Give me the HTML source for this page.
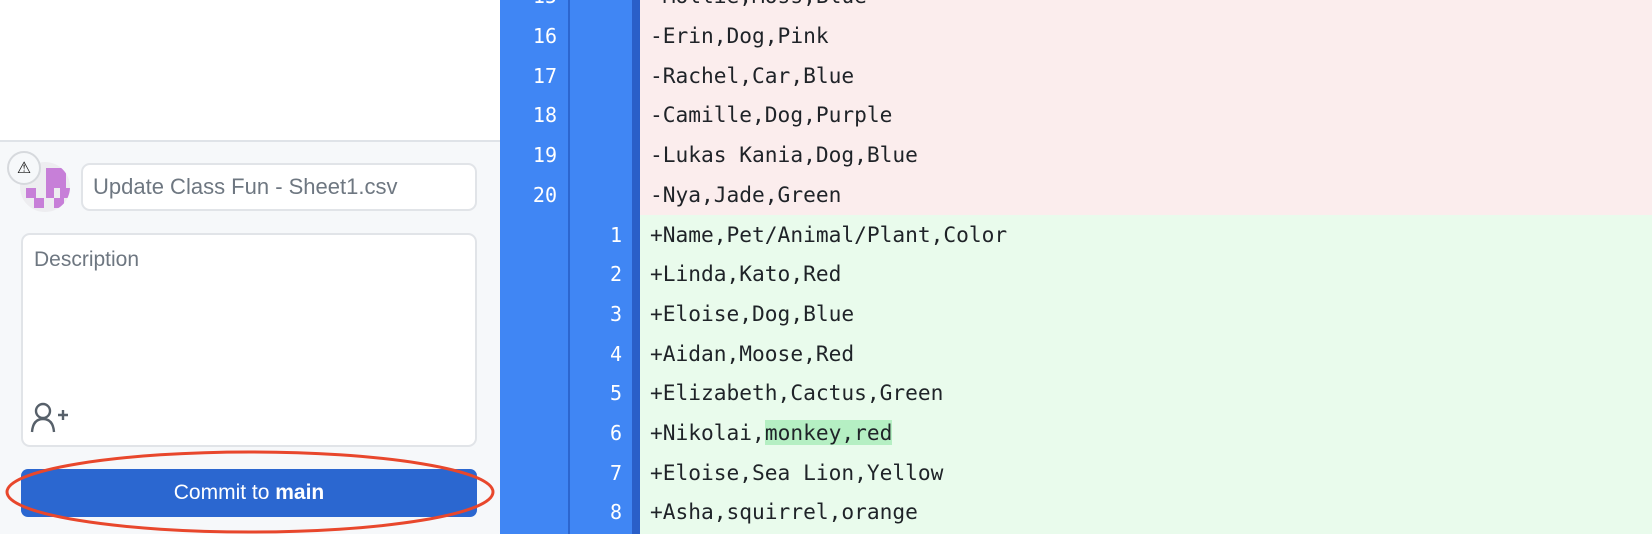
<!DOCTYPE html>
<html><head><meta charset="utf-8">
<style>
*{margin:0;padding:0;box-sizing:border-box}
body{width:1652px;height:534px;overflow:hidden;position:relative;background:#fff;font-family:"Liberation Sans",sans-serif}
.abs{position:absolute}
.row{position:absolute;left:640px;width:1012px;height:40px;font-family:"DejaVu Sans Mono",monospace;font-size:21.2px;color:#1f2328;line-height:40px;padding-left:10px;white-space:pre}
.num{position:absolute;font-family:"DejaVu Sans Mono",monospace;font-size:20px;color:#fff;line-height:40px;height:40px;text-align:right}
</style></head><body>
<div class="abs" style="left:0;top:0;width:500px;height:141px;background:#fff"></div>
<div class="abs" style="left:0;top:140px;width:500px;height:394px;background:#f6f8fa;border-top:2px solid #dfe3e8"></div>
<div class="abs" style="left:20px;top:162px;width:50px;height:50px;border-radius:50%;background:#ededf0;overflow:hidden">
 <div class="abs" style="left:26px;top:6px;width:10px;height:10px;background:#c77fd8"></div>
 <div class="abs" style="left:36px;top:6px;width:10px;height:20px;background:#c77fd8"></div>
 <div class="abs" style="left:26px;top:16px;width:10px;height:10px;background:#c77fd8"></div>
 <div class="abs" style="left:6px;top:26px;width:10px;height:10px;background:#c77fd8"></div>
 <div class="abs" style="left:26px;top:26px;width:8px;height:10px;background:#c77fd8"></div>
 <div class="abs" style="left:40px;top:26px;width:10px;height:10px;background:#c77fd8"></div>
 <div class="abs" style="left:14px;top:36px;width:10px;height:10px;background:#c77fd8"></div>
 <div class="abs" style="left:34px;top:36px;width:10px;height:10px;background:#c77fd8"></div>
</div>
<div class="abs" style="left:7px;top:151px;width:34px;height:34px;border-radius:50%;background:#f6f8fa;border:2px solid #d6d9dd;text-align:center;line-height:29px;font-size:16px;color:#111;font-family:'DejaVu Sans',sans-serif">⚠</div>
<div class="abs" style="left:81px;top:163px;width:396px;height:48px;background:#fff;border:2px solid #e1e4e8;border-radius:9px;font-size:22px;color:#6e7781;line-height:44px;padding-left:10px">Update Class Fun - Sheet1.csv</div>
<div class="abs" style="left:21px;top:233px;width:456px;height:214px;background:#fff;border:2px solid #e1e4e8;border-radius:9px;font-size:21px;color:#6e7781;padding:13px 0 0 11px">Description</div>
<svg class="abs" style="left:30px;top:402px" width="40" height="32" viewBox="0 0 40 32"><circle cx="13" cy="9" r="7" fill="none" stroke="#57606a" stroke-width="2.4"/><path d="M2 30 Q3 17 13 17 Q23 17 24 30" fill="none" stroke="#57606a" stroke-width="2.4"/><path d="M28 13h10M33 8v10" stroke="#57606a" stroke-width="2.4"/></svg>
<div class="abs" style="left:21px;top:469px;width:456px;height:48px;background:#2b67d0;border-radius:7px;color:#fff;font-size:21px;text-align:center;line-height:48px">Commit to <b>main</b></div>
<svg class="abs" style="left:0;top:440px" width="500" height="94"><ellipse cx="250" cy="52" rx="243" ry="40" fill="none" stroke="#e8472c" stroke-width="3"/></svg>
<div class="abs" style="left:500px;top:0;width:69px;height:534px;background:#4086f4"></div>
<div class="abs" style="left:568px;top:0;width:2px;height:534px;background:#2c66cf"></div>
<div class="abs" style="left:570px;top:0;width:62px;height:534px;background:#4086f4"></div>
<div class="abs" style="left:632px;top:0;width:8px;height:534px;background:#2a5fc8"></div>
<div class="abs" style="left:640px;top:0;width:1012px;height:215px;background:#fbeded"></div>
<div class="abs" style="left:640px;top:215px;width:1012px;height:319px;background:#e9fbec"></div>
<div class="num" style="left:500px;width:57px;top:-24px">15</div>
<div class="num" style="left:500px;width:57px;top:16px">16</div>
<div class="num" style="left:500px;width:57px;top:56px">17</div>
<div class="num" style="left:500px;width:57px;top:95px">18</div>
<div class="num" style="left:500px;width:57px;top:135px">19</div>
<div class="num" style="left:500px;width:57px;top:175px">20</div>
<div class="num" style="left:570px;width:52px;top:215px">1</div>
<div class="num" style="left:570px;width:52px;top:254px">2</div>
<div class="num" style="left:570px;width:52px;top:294px">3</div>
<div class="num" style="left:570px;width:52px;top:334px">4</div>
<div class="num" style="left:570px;width:52px;top:373px">5</div>
<div class="num" style="left:570px;width:52px;top:413px">6</div>
<div class="num" style="left:570px;width:52px;top:453px">7</div>
<div class="num" style="left:570px;width:52px;top:492px">8</div>
<div class="row" style="top:-24px">-Mollie,Moss,Blue</div>
<div class="row" style="top:16px">-Erin,Dog,Pink</div>
<div class="row" style="top:56px">-Rachel,Car,Blue</div>
<div class="row" style="top:95px">-Camille,Dog,Purple</div>
<div class="row" style="top:135px">-Lukas Kania,Dog,Blue</div>
<div class="row" style="top:175px">-Nya,Jade,Green</div>
<div class="row" style="top:215px">+Name,Pet/Animal/Plant,Color</div>
<div class="row" style="top:254px">+Linda,Kato,Red</div>
<div class="row" style="top:294px">+Eloise,Dog,Blue</div>
<div class="row" style="top:334px">+Aidan,Moose,Red</div>
<div class="row" style="top:373px">+Elizabeth,Cactus,Green</div>
<div class="row" style="top:413px">+Nikolai,<span style="background:#b5efc3">monkey,red</span></div>
<div class="row" style="top:453px">+Eloise,Sea Lion,Yellow</div>
<div class="row" style="top:492px">+Asha,squirrel,orange</div>
</body></html>
